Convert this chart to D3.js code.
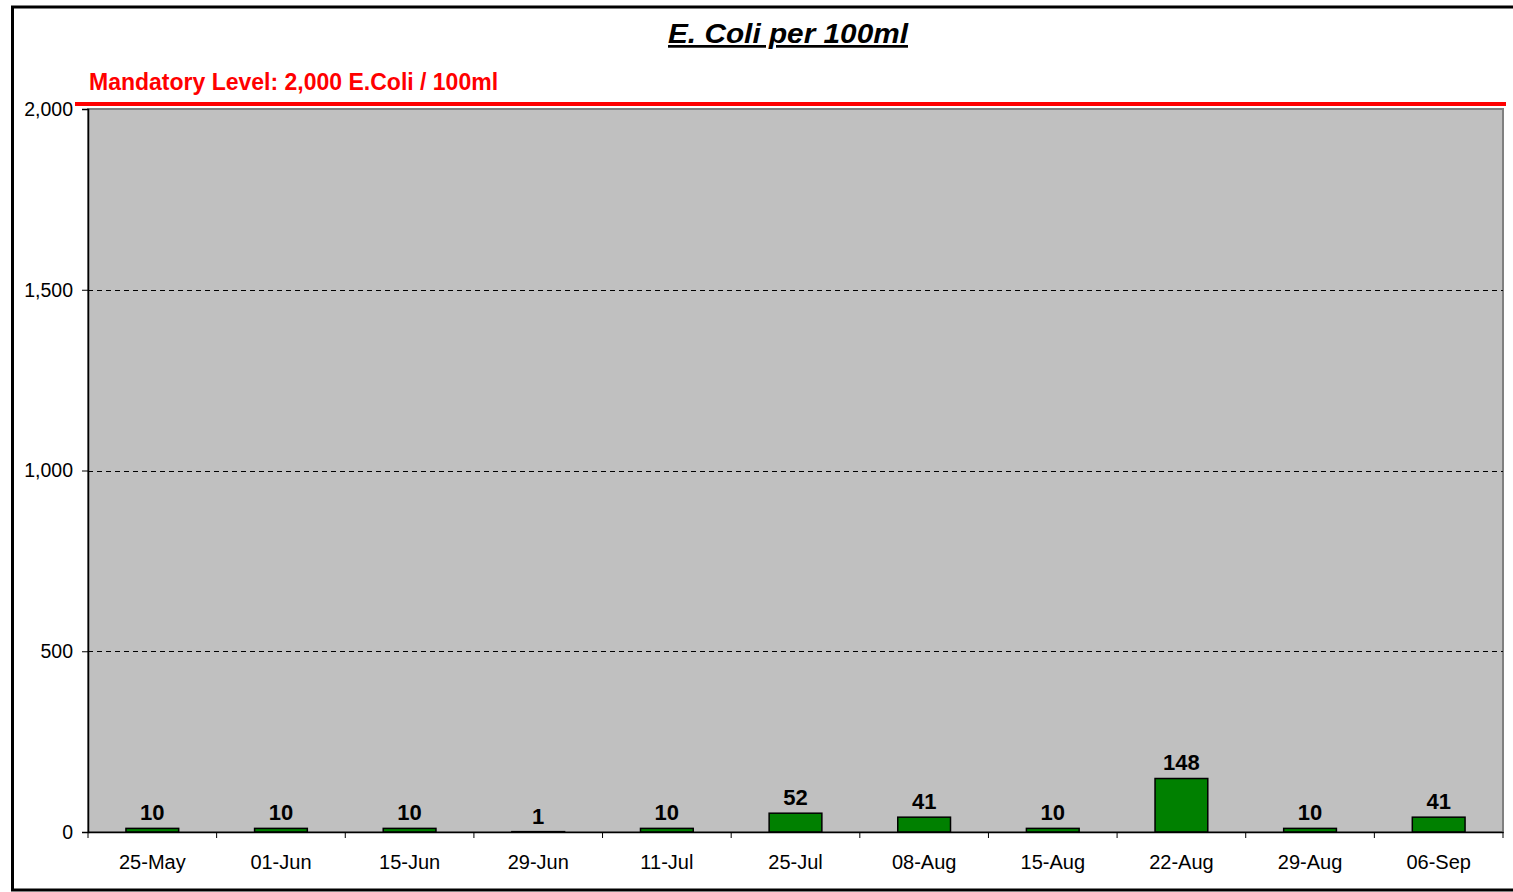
<!DOCTYPE html>
<html><head><meta charset="utf-8">
<script src="https://cdn.jsdelivr.net/npm/d3@7"></script>
<style>html,body{margin:0;padding:0;background:#fff;}svg{display:block;}</style>
</head><body>
<svg id="chart" width="1513" height="892"></svg>
<script>
const categories = ["25-May","01-Jun","15-Jun","29-Jun","11-Jul","25-Jul","08-Aug","15-Aug","22-Aug","29-Aug","06-Sep"];
const values = [10,10,10,1,10,52,41,10,148,10,41];
const yTicks = [0,500,1000,1500,2000];
const mandatoryLevel = 2000;
const titleText = "E. Coli per 100ml";
const limitText = "Mandatory Level: 2,000 E.Coli / 100ml";

const svg = d3.select("#chart");
const font = "Arial, 'Liberation Sans', sans-serif";
const L = 88, R = 1503, T = 109, B = 832;

// outer border
svg.append("rect").attr("x",12.5).attr("y",7).attr("width",1510).attr("height",883)
  .attr("fill","#fff").attr("stroke","#000").attr("stroke-width",3);

const x = d3.scaleBand().domain(categories).range([L,R]).paddingInner(0).paddingOuter(0);
const y = d3.scaleLinear().domain([0,2000]).range([B,T]);

// plot area
svg.append("rect").attr("x",L).attr("y",T).attr("width",R-L).attr("height",B-T)
  .attr("fill","#c0c0c0").attr("stroke","#808080").attr("stroke-width",2);

// gridlines
svg.append("g").selectAll("line").data(yTicks.filter(d=>d>0 && d<2000)).join("line")
  .attr("x1",L).attr("x2",R).attr("y1",d=>Math.round(y(d))+0.5).attr("y2",d=>Math.round(y(d))+0.5)
  .attr("stroke","#000").attr("stroke-width",1).attr("stroke-dasharray","5,4");

// bars
const bw = x.bandwidth()*0.41;
svg.append("g").selectAll("rect").data(values).join("rect")
  .attr("x",(d,i)=>x(categories[i])+x.bandwidth()/2-bw/2)
  .attr("y",d=>y(d))
  .attr("width",bw)
  .attr("height",d=>B-y(d))
  .attr("fill","#008000").attr("stroke","#000").attr("stroke-width",1.5);

// y axis
const yAxis = d3.axisLeft(y).tickValues(yTicks).tickFormat(d3.format(",")).tickSizeOuter(0).tickSize(6).tickPadding(9);
const gy = svg.append("g").attr("transform",`translate(${L},0)`).call(yAxis);
gy.select(".domain").attr("stroke","#000").attr("stroke-width",1.5);
gy.selectAll(".tick line").attr("stroke","#000");
gy.selectAll("text").attr("font-family",font).attr("font-size",19.5).attr("fill","#000");

// x axis
const xAxis = d3.axisBottom(x).tickSize(0).tickPadding(23);
const gx = svg.append("g").attr("transform",`translate(0,${B})`).call(xAxis);
gx.select(".domain").attr("stroke","#000").attr("stroke-width",1.5);
gx.selectAll("text").attr("font-family",font).attr("font-size",20).attr("fill","#000");
// tick marks at category boundaries
const bounds = categories.map(c=>x(c)).concat([R]);
gx.append("g").selectAll("line").data(bounds).join("line")
  .attr("x1",d=>d).attr("x2",d=>d).attr("y1",0).attr("y2",6)
  .attr("stroke","#000").attr("stroke-width",1);

// value labels
svg.append("g").selectAll("text").data(values).join("text")
  .attr("x",(d,i)=>x(categories[i])+x.bandwidth()/2)
  .attr("y",d=>y(d)-8)
  .attr("text-anchor","middle")
  .attr("font-family",font).attr("font-weight","bold").attr("font-size",22).attr("fill","#000")
  .text(d=>d);

// mandatory level line
svg.append("line").attr("x1",75).attr("x2",1506)
  .attr("y1",y(mandatoryLevel)-5).attr("y2",y(mandatoryLevel)-5)
  .attr("stroke","#ff0000").attr("stroke-width",4);
svg.append("text").attr("x",89).attr("y",y(mandatoryLevel)-19)
  .attr("font-family",font).attr("font-weight","bold").attr("font-size",23).attr("fill","#ff0000")
  .text(limitText);

// title
svg.append("text").attr("x",788).attr("y",43).attr("text-anchor","middle")
  .attr("font-family",font).attr("font-weight","bold").attr("font-style","italic").attr("font-size",27)
  .attr("text-decoration","underline")
  .attr("textLength",240).attr("lengthAdjust","spacingAndGlyphs")
  .attr("fill","#000").text(titleText);
</script>
</body></html>
